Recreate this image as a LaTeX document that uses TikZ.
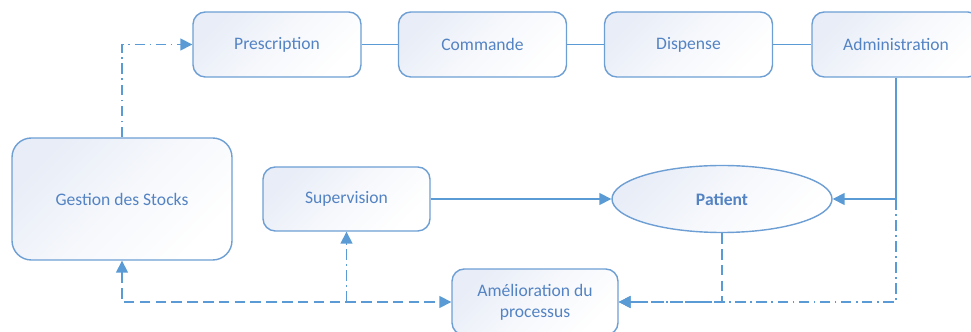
\documentclass[tikz,border=0pt]{standalone}
\usepackage{fontspec}
\setmainfont{Carlito}
\usetikzlibrary{arrows.meta,positioning,shapes.geometric}
\definecolor{edge}{HTML}{6E9FD4}
\definecolor{wire}{HTML}{5B9BD5}
\definecolor{label}{HTML}{5383C3}
\definecolor{wash}{HTML}{E8EDF7}
\tikzset{
  base/.style={align=center, font=\normalsize, text=label, line width=0.8pt, draw=edge, top color=wash, bottom color=white, middle color=white!60!wash, shading angle=45},
  stage/.style={base, rounded corners=7pt, minimum width=3.36cm, minimum height=1.3cm},
  link/.style={line width=0.9pt, draw=wire},
  arr/.style={link, -{Triangle[length=2.4mm,width=2.4mm]}},
  dd/.style={dash pattern=on 6pt off 2.5pt on 1pt off 2.5pt},
  ld/.style={dash pattern=on 6pt off 3pt},
}
\begin{document}
\begin{tikzpicture}
  \useasboundingbox (0,0) rectangle (19.42,6.64);
  % top chain
  \node[stage] (presc) at (5.54,5.75) {Prescription};
  \node[stage] (comm) at (9.65,5.75) {Commande};
  \node[stage] (disp) at (13.77,5.75) {Dispense};
  \node[stage] (admin) at (17.92,5.75) {Administration};
  % lower row
  \node[stage, rounded corners=11pt, minimum width=4.4cm, minimum height=2.44cm] (stock) at (2.44,2.66) {Gestion des Stocks};
  \node[stage, minimum width=3.34cm, minimum height=1.28cm] (superv) at (6.93,2.66) {Supervision};
  \node[base, ellipse, minimum width=4.4cm, minimum height=1.34cm, font=\normalsize\bfseries] (patient) at (14.44,2.66) {Patient};
  \node[stage, minimum width=3.32cm, minimum height=1.32cm] (amel) at (10.7,0.6) {Amélioration du\\processus};
  \foreach \a/\b in {presc/comm,comm/disp,disp/admin} \draw[link] (\a) -- (\b);
  \draw[arr, dd] (stock.north) |- (presc.west);
  \coordinate (tap) at (admin.south |- patient.east);
  \draw[arr] (admin.south) -- (tap) -- (patient.east);
  \draw[arr] (superv) -- (patient);
  \draw[arr, dd] (tap) |- (amel.east);
  \draw[arr, ld] (patient.south) |- (amel.east);
  \draw[link, ld, {Triangle[length=2.4mm,width=2.4mm]}-{Triangle[length=2.4mm,width=2.4mm]}] (stock.south) |- (amel.west);
  \coordinate (fork) at (superv.south |- amel.west);
  \draw[arr, dd] (fork) -- (superv.south);
\end{tikzpicture}
\end{document}
